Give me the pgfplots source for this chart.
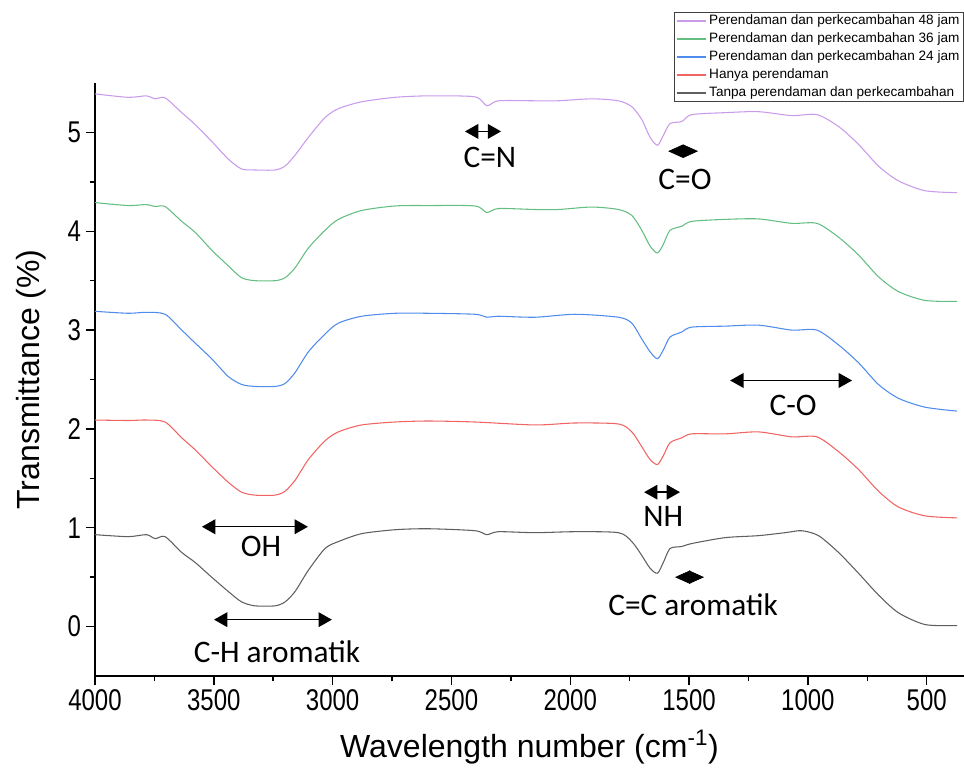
\documentclass[border=0pt]{standalone}
\usepackage{fontspec}
\setmainfont{Liberation Sans}
\newfontfamily\annfont{Carlito}
\usepackage{graphicx}
\usepackage{pgfplots}
\pgfplotsset{compat=1.18}
\usetikzlibrary{arrows.meta}

\definecolor{cpur}{RGB}{200,155,235}
\definecolor{cgre}{RGB}{100,190,130}
\definecolor{cblu}{RGB}{80,140,235}
\definecolor{cred}{RGB}{240,100,100}
\definecolor{cblk}{RGB}{95,95,95}

\pgfplotstableread{
w v
4000 5.39
3860 5.355
3783 5.37
3747 5.34
3705 5.35
3635 5.20
3579 5.08
3509 4.91
3439 4.73
3383 4.63
3327 4.62
3242 4.62
3200 4.66
3158 4.77
3102 4.95
3032 5.15
2976 5.24
2878 5.31
2737 5.355
2597 5.37
2401 5.36
2351 5.27
2302 5.32
2148 5.32
2050 5.32
1910 5.34
1797 5.32
1741 5.26
1699 5.13
1664 4.95
1633 4.87
1608 4.97
1580 5.09
1531 5.11
1489 5.18
1348 5.20
1208 5.21
1068 5.17
962 5.18
871 5.06
787 4.88
703 4.66
619 4.51
507 4.41
372 4.39
}\tpur

\pgfplotstableread{
w v
4000 4.29
3860 4.26
3783 4.27
3747 4.25
3705 4.25
3635 4.10
3579 3.99
3509 3.81
3439 3.65
3383 3.53
3327 3.50
3242 3.50
3200 3.53
3158 3.63
3102 3.83
3032 4.01
2976 4.12
2878 4.21
2737 4.256
2597 4.26
2401 4.256
2351 4.19
2302 4.23
2148 4.22
2050 4.22
1910 4.245
1797 4.22
1741 4.16
1699 4.01
1664 3.85
1633 3.78
1608 3.87
1580 4.01
1531 4.05
1489 4.10
1348 4.12
1208 4.125
1068 4.08
962 4.08
871 3.94
787 3.76
703 3.54
619 3.39
507 3.30
372 3.29
}\tgre

\pgfplotstableread{
w v
4000 3.19
3860 3.17
3783 3.18
3705 3.16
3635 3.00
3579 2.87
3509 2.71
3439 2.53
3383 2.45
3327 2.43
3242 2.43
3200 2.46
3158 2.57
3102 2.78
3032 2.96
2976 3.07
2878 3.14
2737 3.17
2597 3.17
2401 3.16
2351 3.13
2302 3.14
2148 3.13
1980 3.16
1797 3.13
1741 3.07
1699 2.91
1664 2.78
1633 2.71
1608 2.80
1580 2.93
1531 2.98
1489 3.03
1348 3.04
1208 3.05
1068 3.00
962 3.00
871 2.85
787 2.67
703 2.45
619 2.31
507 2.22
372 2.18
}\tblu

\pgfplotstableread{
w v
4000 2.09
3860 2.085
3783 2.09
3705 2.07
3635 1.91
3579 1.79
3509 1.62
3439 1.46
3383 1.36
3327 1.33
3242 1.33
3200 1.37
3158 1.48
3102 1.69
3032 1.88
2976 1.97
2878 2.04
2737 2.07
2597 2.08
2401 2.07
2148 2.04
1980 2.06
1797 2.05
1741 1.97
1699 1.82
1664 1.69
1633 1.64
1608 1.73
1580 1.86
1531 1.91
1489 1.95
1348 1.95
1208 1.97
1068 1.92
962 1.92
871 1.77
787 1.59
703 1.37
619 1.21
507 1.12
372 1.10
}\tred

\pgfplotstableread{
w v
4000 0.93
3860 0.91
3783 0.93
3747 0.89
3705 0.91
3635 0.75
3579 0.65
3509 0.50
3439 0.355
3383 0.25
3327 0.21
3242 0.21
3200 0.25
3158 0.355
3102 0.57
3032 0.79
2976 0.86
2878 0.94
2737 0.98
2597 0.99
2401 0.97
2351 0.93
2302 0.96
2148 0.95
1980 0.96
1797 0.95
1741 0.86
1699 0.72
1664 0.59
1633 0.54
1608 0.65
1580 0.79
1531 0.81
1489 0.84
1348 0.90
1208 0.92
1096 0.95
1026 0.97
955 0.92
871 0.75
787 0.54
703 0.32
619 0.14
506 0.02
372 0.01
}\tblk

\begin{document}
\begin{tikzpicture}
\begin{axis}[
  name=ax,
  scale only axis,
  width=651.75pt, height=444.75pt,
  x dir=reverse,
  xmin=343, xmax=4000,
  ymin=-0.5, ymax=5.5,
  axis lines=left,
  axis line style={-, line width=1.1pt},
  every tick/.style={line width=1.1pt, black},
  tick align=outside,
  major tick length=7pt,
  minor tick length=4pt,
  xtick={500,1000,...,4000},
  ytick={0,1,2,3,4,5},
  minor x tick num=1,
  minor y tick num=1,
  /pgf/number format/assume math mode=true,
  /pgf/number format/1000 sep={},
  tick label style={font=\fontsize{22.5pt}{26pt}\selectfont},
  xticklabel={\scalebox{0.8}[1]{\pgfmathprintnumber{\tick}}},
  yticklabel={\scalebox{0.8}[1]{\pgfmathprintnumber{\tick}}},
  xlabel={Wavelength number (cm\textsuperscript{-1})},
  ylabel={Transmittance (\%)},
  xlabel shift=7pt,
  ylabel shift=9pt,
  label style={font=\fontsize{24pt}{28pt}\selectfont},
  clip=false,
  legend cell align=left,
  legend style={at={(rel axis cs:0.9995,1.12)}, anchor=north east,
    font=\fontsize{10.2pt}{11pt}\selectfont, draw=black!75, line width=0.5pt,
    inner sep=1pt, nodes={inner xsep=1.8pt, inner ysep=1.1pt}, row sep=2.4pt},
  legend image code/.code={\draw[#1,line width=1.3pt] (0pt,0pt) -- (22pt,0pt);},
  every axis plot/.append style={line width=0.8pt, smooth, tension=0.45},
]
\addplot[color=cpur] table[x=w,y=v] {\tpur};
\addlegendentry{Perendaman dan perkecambahan 48 jam}
\addplot[color=cgre] table[x=w,y=v] {\tgre};
\addlegendentry{Perendaman dan perkecambahan 36 jam}
\addplot[color=cblu] table[x=w,y=v] {\tblu};
\addlegendentry{Perendaman dan perkecambahan 24 jam}
\addplot[color=cred] table[x=w,y=v] {\tred};
\addlegendentry{Hanya perendaman}
\addplot[color=cblk] table[x=w,y=v] {\tblk};
\addlegendentry{Tanpa perendaman dan perkecambahan}

\tikzset{ann/.style={font=\annfont\fontsize{23.5pt}{28pt}\selectfont, inner sep=0pt},
  dar/.style={line width=1.1pt, {Triangle[length=10pt,width=11pt]}-{Triangle[length=10pt,width=11pt]}},
  dia/.style={line width=0.5pt, {Triangle[length=11.25pt,width=10pt]}-{Triangle[length=11.25pt,width=10pt]}}}
% OH
\draw[dar] (axis cs:3550,1.01) -- (axis cs:3104,1.01);
\node[ann] at (axis cs:3301,0.81) {OH};
% C-H aromatik
\draw[dar] (axis cs:3499,0.07) -- (axis cs:3003,0.07);
\node[ann] at (axis cs:3234,-0.25) {C-H aromatik};
% C=N
\draw[dar] (axis cs:2443,5.01) -- (axis cs:2291,5.01);
\node[ann] at (axis cs:2338,4.75) {C=N};
% C=O
\draw[dia] (axis cs:1588,4.81) -- (axis cs:1462,4.81);
\node[ann] at (axis cs:1517,4.52) {C=O};
% C-O
\draw[dar] (axis cs:1327,2.49) -- (axis cs:814,2.49);
\node[ann] at (axis cs:1062,2.24) {C-O};
% NH
\draw[dar] (axis cs:1689,1.36) -- (axis cs:1538,1.36);
\node[ann] at (axis cs:1609,1.11) {NH};
% C=C aromatik
\draw[dia] (axis cs:1559,0.50) -- (axis cs:1437,0.50);
\node[ann] at (axis cs:1483,0.22) {C=C aromatik};
\end{axis}
\pgfresetboundingbox
\path (ax.south west) ++(-71.25pt,-71.25pt) rectangle ++(723pt,578.25pt);
\end{tikzpicture}
\end{document}
